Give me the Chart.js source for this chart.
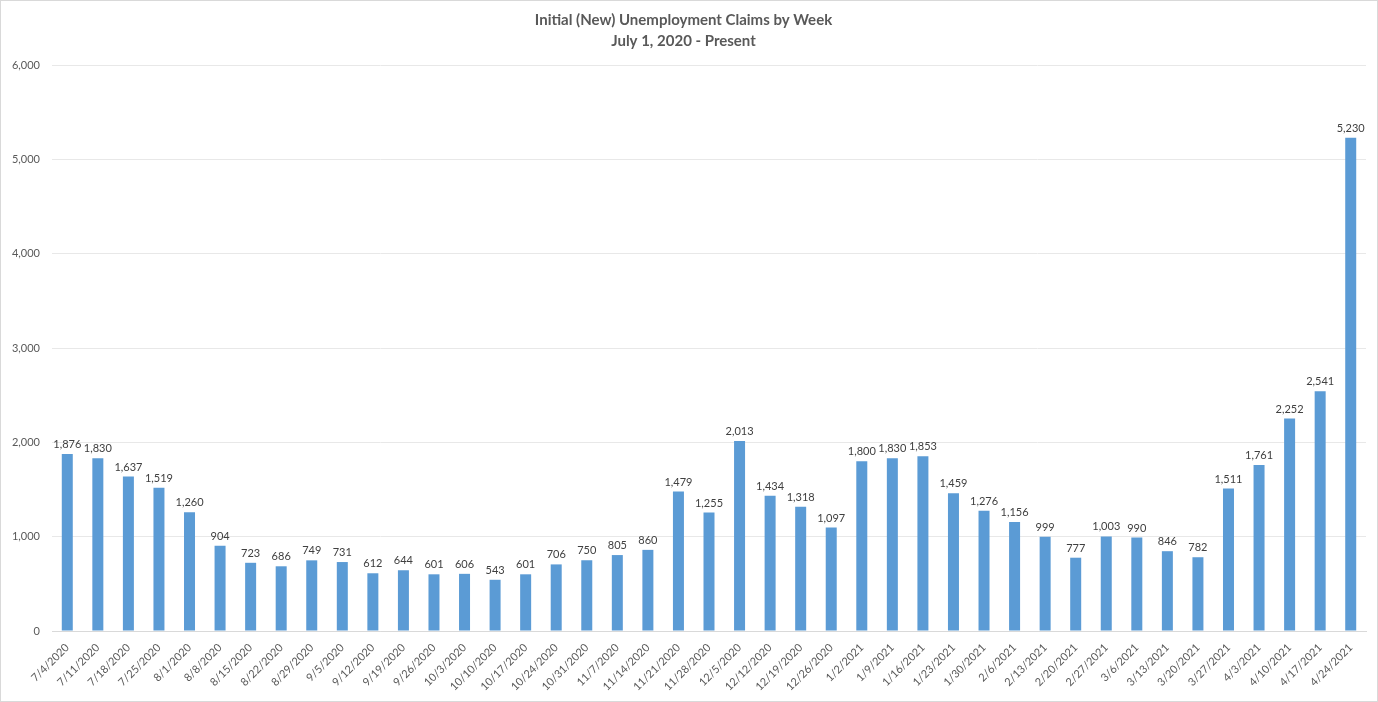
<!DOCTYPE html>
<html>
<head>
<meta charset="utf-8">
<script src="https://cdn.jsdelivr.net/npm/chart.js@4"></script>
<style>
    html, body { margin: 0; padding: 0; background: #fff; }
    #wrap { width: 1378px; height: 702px; position: relative; box-sizing: border-box; border: 1px solid #d9d9d9; }
</style>
</head>
<body>
<div id="wrap"><canvas id="claimsChart"></canvas></div>
<script>
const weeks = ['7/4/2020', '7/11/2020', '7/18/2020', '7/25/2020', '8/1/2020', '8/8/2020', '8/15/2020', '8/22/2020',
    '8/29/2020', '9/5/2020', '9/12/2020', '9/19/2020', '9/26/2020', '10/3/2020', '10/10/2020', '10/17/2020',
    '10/24/2020', '10/31/2020', '11/7/2020', '11/14/2020', '11/21/2020', '11/28/2020', '12/5/2020', '12/12/2020',
    '12/19/2020', '12/26/2020', '1/2/2021', '1/9/2021', '1/16/2021', '1/23/2021', '1/30/2021', '2/6/2021',
    '2/13/2021', '2/20/2021', '2/27/2021', '3/6/2021', '3/13/2021', '3/20/2021', '3/27/2021', '4/3/2021',
    '4/10/2021', '4/17/2021', '4/24/2021'];
const claims = [1876, 1830, 1637, 1519, 1260, 904, 723, 686, 749, 731, 612, 644, 601, 606, 543, 601,
    706, 750, 805, 860, 1479, 1255, 2013, 1434, 1318, 1097, 1800, 1830, 1853, 1459, 1276, 1156,
    999, 777, 1003, 990, 846, 782, 1511, 1761, 2252, 2541, 5230];
const titleLines = ['Initial (New) Unemployment Claims by Week', 'July 1, 2020 - Present'];
const yTicks = [0, 1000, 2000, 3000, 4000, 5000, 6000];

const FONT = 'Lato, "Open Sans", sans-serif';

// value labels above each bar
const barLabels = {
    id: 'barLabels',
    afterDatasetsDraw(chart) {
        const ctx = chart.ctx;
        const meta = chart.getDatasetMeta(0);
        ctx.save();
        ctx.font = '11px ' + FONT;
        ctx.fillStyle = '#404040';
        ctx.textAlign = 'center';
        ctx.textBaseline = 'bottom';
        meta.data.forEach((bar, i) => {
            ctx.fillText(claims[i].toLocaleString('en-US'), bar.x, bar.y - 4);
        });
        ctx.restore();
    }
};

new Chart(document.getElementById('claimsChart'), {
    type: 'bar',
    data: {
        labels: weeks,
        datasets: [{
            data: claims,
            backgroundColor: '#5B9BD5',
            barPercentage: 0.36,
            categoryPercentage: 1
        }]
    },
    options: {
        responsive: true,
        maintainAspectRatio: false,
        animation: false,
        layout: { padding: { left: 0, right: 11, top: 0, bottom: 0 } },
        plugins: {
            legend: { display: false },
            tooltip: { enabled: false },
            title: {
                display: true,
                text: titleLines,
                color: '#595959',
                font: { family: FONT, size: 15, weight: 'bold', lineHeight: 1.4 },
                padding: { top: 9, bottom: 13 }
            }
        },
        scales: {
            x: {
                grid: { display: false },
                border: { color: '#d9d9d9' },
                ticks: {
                    color: '#595959',
                    font: { family: FONT, size: 11 },
                    minRotation: 45,
                    maxRotation: 45,
                    autoSkip: false,
                    padding: 2
                },
                afterFit(scale) { scale.height = 70; }
            },
            y: {
                min: 0,
                max: 6000,
                grid: { color: '#e8e8e8', drawTicks: false },
                border: { display: false },
                afterBuildTicks(scale) { scale.ticks = yTicks.map(v => ({ value: v })); },
                ticks: {
                    color: '#595959',
                    font: { family: FONT, size: 11 },
                    padding: 12,
                    callback: v => v.toLocaleString('en-US')
                },
                afterFit(scale) { scale.width = 51; }
            }
        }
    },
    plugins: [barLabels]
});
</script>
</body>
</html>
